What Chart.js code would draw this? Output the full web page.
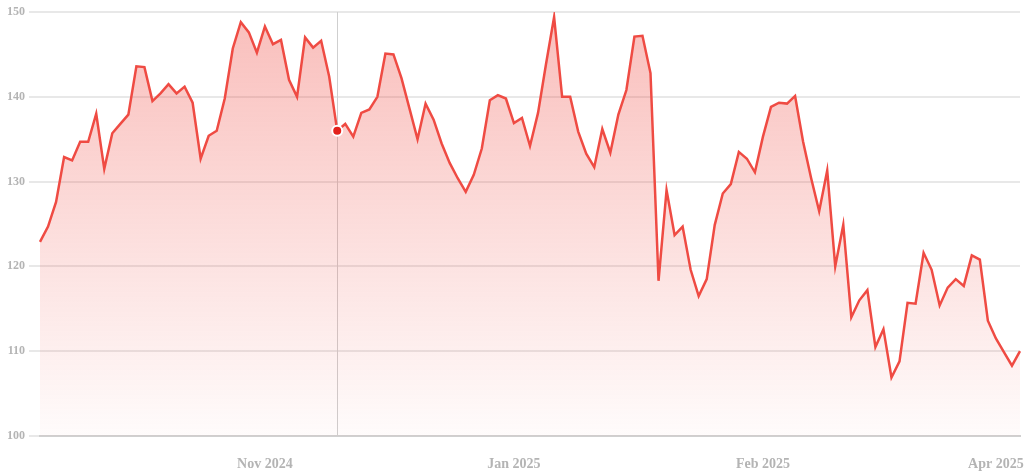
<!DOCTYPE html>
<html>
<head>
<meta charset="utf-8">
<script src="https://cdn.jsdelivr.net/npm/chart.js@4"></script>
<style>
  html, body { margin: 0; padding: 0; background: #fff; }
  #wrap { width: 1024px; height: 473px; }
</style>
</head>
<body>
<div id="wrap"><canvas id="priceChart"></canvas></div>
<script>
// closing prices, one per trading day
const prices = [
  122.9, 124.7, 127.6, 132.9, 132.5, 134.7, 134.7, 138.0, 131.5, 135.7,
  136.8, 137.9, 143.6, 143.5, 139.5, 140.4, 141.5, 140.4, 141.2, 139.3,
  132.7, 135.4, 136.0, 139.8, 145.7, 148.8, 147.6, 145.2, 148.3, 146.2,
  146.7, 142.0, 140.0, 147.0, 145.8, 146.6, 142.4, 136.0, 136.8, 135.3,
  138.1, 138.5, 140.0, 145.1, 145.0, 142.2, 138.6, 135.0, 139.2, 137.3,
  134.5, 132.2, 130.4, 128.8, 130.8, 133.9, 139.6, 140.2, 139.8, 136.9,
  137.5, 134.2, 138.1, 143.9, 149.4, 140.0, 140.0, 135.9, 133.3, 131.7,
  136.2, 133.4, 137.9, 140.8, 147.1, 147.2, 142.8, 118.3, 129.0, 123.7,
  124.7, 119.6, 116.5, 118.5, 124.9, 128.6, 129.7, 133.5, 132.7, 131.1,
  135.3, 138.8, 139.3, 139.2, 140.1, 134.7, 130.4, 126.5, 131.3, 120.0,
  124.9, 114.0, 116.0, 117.2, 110.5, 112.6, 106.9, 108.8, 115.7, 115.6,
  121.6, 119.6, 115.4, 117.5, 118.5, 117.7, 121.3, 120.8, 113.6, 111.5,
  109.9, 108.3, 110.0
];

// month labels and the trading-day index they sit on
const monthLabels = ['Nov 2024', 'Jan 2025', 'Feb 2025', 'Apr 2025'];
const monthIndex = [28, 59, 90, 119];

const yTicks = [100, 110, 120, 130, 140, 150];

// the day under the cursor in the screenshot
const hoverIndex = 37;

const categories = prices.map((_, i) => {
  const k = monthIndex.indexOf(i);
  return k >= 0 ? monthLabels[k] : '';
});

const tickFont = { family: "'Liberation Serif', 'Times New Roman', serif", weight: 'bold' };

const crosshair = {
  id: 'crosshair',
  beforeDatasetsDraw(chart) {
    const pt = chart.getDatasetMeta(0).data[hoverIndex];
    if (!pt) return;
    const { ctx, chartArea } = chart;
    const x = Math.round(pt.x) + 0.5;
    ctx.save();
    ctx.strokeStyle = '#cfcfcf';
    ctx.lineWidth = 1;
    ctx.beginPath();
    ctx.moveTo(x, chartArea.top);
    ctx.lineTo(x, chartArea.bottom);
    ctx.stroke();
    ctx.restore();
  }
};

const ctx = document.getElementById('priceChart').getContext('2d');

const priceChart = new Chart(ctx, {
  type: 'line',
  data: {
    labels: categories,
    datasets: [{
      data: prices,
      borderColor: '#ef4b43',
      borderWidth: 2.5,
      tension: 0,
      fill: 'start',
      backgroundColor: (c) => {
        const area = c.chart.chartArea;
        if (!area) return 'rgba(239,75,67,0.2)';
        const g = c.chart.ctx.createLinearGradient(0, area.top, 0, area.bottom);
        g.addColorStop(0, 'rgba(239,75,67,0.36)');
        g.addColorStop(1, 'rgba(239,75,67,0.02)');
        return g;
      },
      pointRadius: (c) => c.dataIndex === hoverIndex ? 5 : 0,
      pointBackgroundColor: '#e3211b',
      pointBorderColor: '#ffffff',
      pointBorderWidth: 2,
      pointHoverRadius: 0
    }]
  },
  options: {
    responsive: true,
    maintainAspectRatio: false,
    animation: false,
    events: [],
    layout: { padding: { top: 12, right: 4, left: 0, bottom: 0 } },
    plugins: {
      legend: { display: false },
      tooltip: { enabled: false }
    },
    scales: {
      x: {
        grid: { display: false },
        border: { display: true, color: '#d0d0d0', width: 2 },
        ticks: {
          autoSkip: false,
          maxRotation: 0,
          minRotation: 0,
          padding: 12,
          color: '#b4b4b4',
          font: { ...tickFont, size: 14 }
        },
        afterFit(axis) {
          axis.height = 37;
          axis.paddingLeft = 0;
          axis.paddingRight = 0;
        }
      },
      y: {
        min: 100,
        max: 150,
        afterBuildTicks(axis) { axis.ticks = yTicks.map(v => ({ value: v })); },
        grid: { color: '#e8e8e8', lineWidth: 2, tickLength: 11 },
        border: { display: false },
        ticks: {
          padding: 4,
          color: '#b4b4b4',
          font: { ...tickFont, size: 12 }
        },
        afterFit(axis) { axis.width = 40; }
      }
    }
  },
  plugins: [crosshair]
});
</script>
</body>
</html>
